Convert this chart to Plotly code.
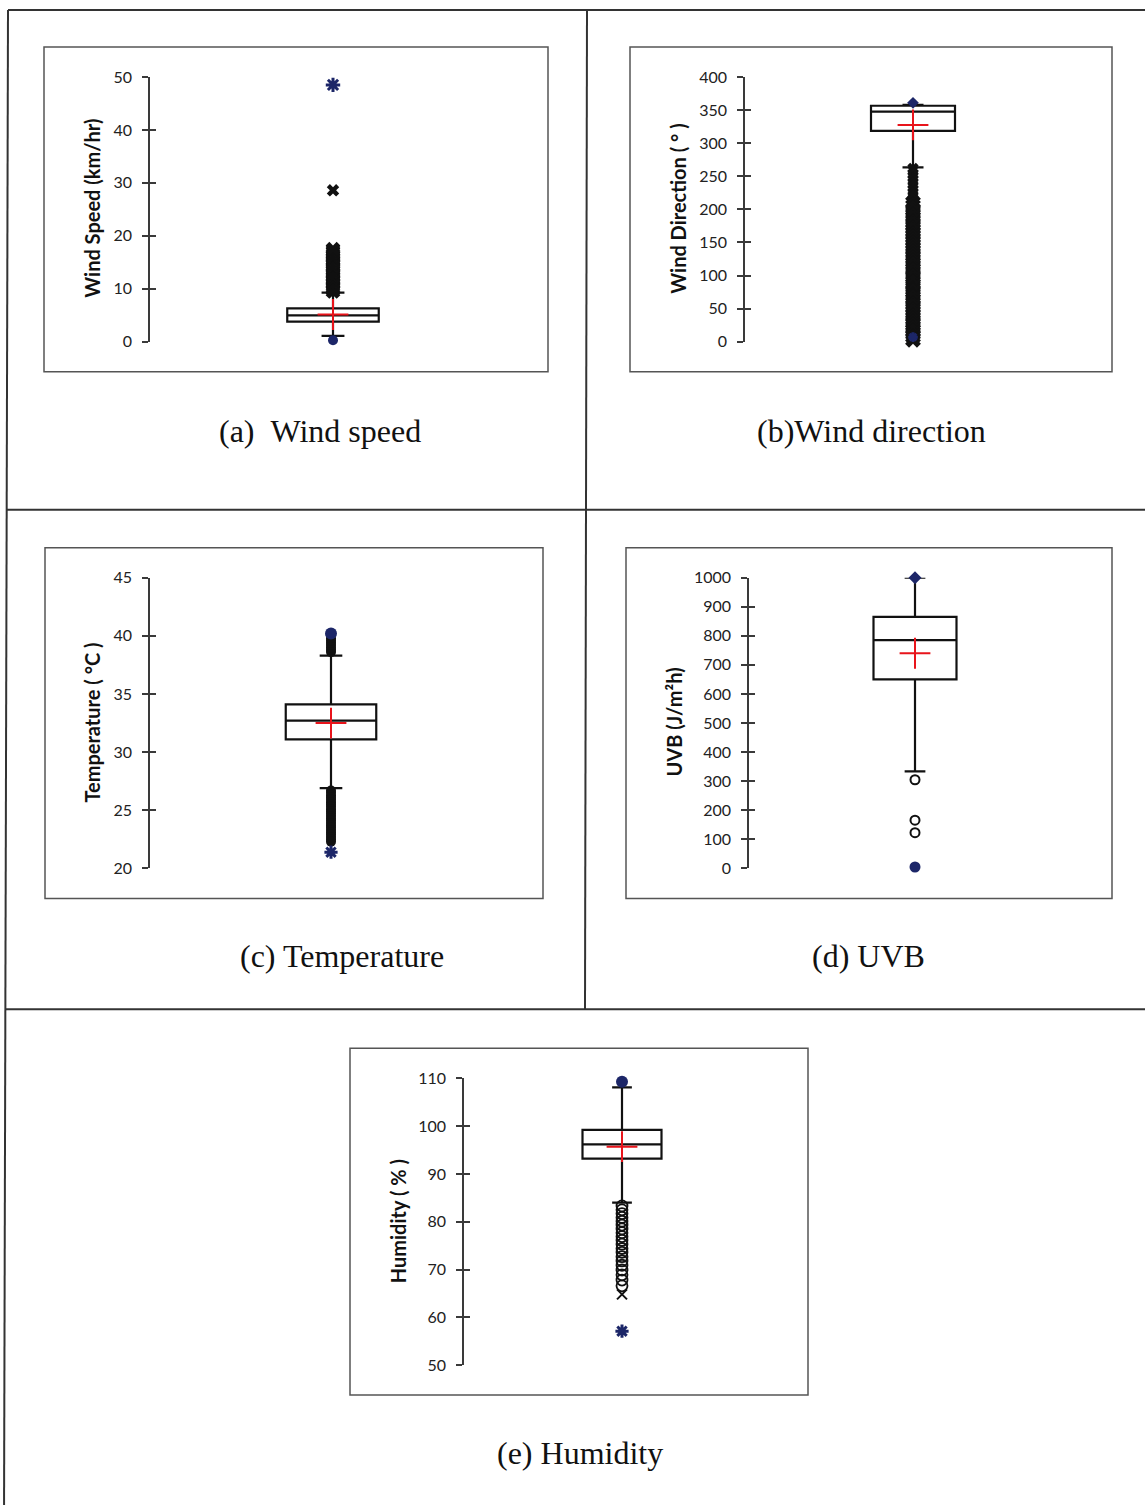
import plotly.graph_objects as go

W, H = 1145, 1505

# ------------------------------------------------------------------ data
# box stats: [lower whisker, Q1, median, Q3, upper whisker]
ws_box = [1.1, 3.8, 5.0, 6.3, 9.3]
ws_mean = 5.15
ws_outliers = [9.5, 9.8, 10.1, 10.3, 10.6, 10.9, 11.1, 11.4, 11.7, 11.9, 12.2, 12.5,
               12.8, 13.0, 13.3, 13.6, 13.9, 14.1, 14.4, 14.7, 15.0, 15.2, 15.5, 15.8,
               16.1, 16.3, 16.6, 16.9, 17.2, 17.5]
ws_far = [28.6]
ws_min, ws_max = 0.3, 48.5

wd_box = [263.5, 318.6, 347.5, 356.5, 358.0]
wd_mean = 327.6
wd_outliers_low = [3, 8, 12, 17, 21, 26, 30, 35, 40, 44, 49, 53, 58, 63, 67, 72, 76, 81,
                   86, 90, 95, 99, 104, 109, 113, 118, 122, 127, 131, 136, 141, 145, 150,
                   154, 159, 164, 168, 173, 177, 182, 187, 191, 196, 200, 205, 210]
wd_outliers_high = [214, 219, 224, 229, 234, 239, 244, 249, 254, 259, 262]
wd_min, wd_max = 7.0, 361.0

tp_box = [26.9, 31.1, 32.7, 34.1, 38.3]
tp_mean = 32.5
tp_outliers_high = [38.6, 38.8, 39.0, 39.2, 39.4, 39.6, 39.8]
tp_outliers_low = [26.7, 26.5, 26.3, 26.1, 25.9, 25.7, 25.5, 25.3, 25.1, 24.9, 24.7, 24.5,
                   24.3, 24.1, 23.9, 23.7, 23.5, 23.3, 23.1, 22.9, 22.7, 22.5, 22.3]
tp_min, tp_max = 21.4, 40.2

uv_box = [334, 650, 785, 865, 1000]
uv_mean = 740
uv_outliers = [305, 166, 123]
uv_min, uv_max = 5, 1000

hu_box = [84.0, 93.2, 96.2, 99.2, 108.1]
hu_mean = 95.7
hu_outliers = [83.3, 82.5, 81.7, 80.9, 80.1, 79.3, 78.5, 77.7, 76.9, 76.1, 75.3, 74.4,
               73.6, 72.7, 71.8, 70.9, 69.9, 68.9, 67.8, 66.6]
hu_far = [64.8]
hu_min, hu_max = 57.1, 109.3

y_ranges = [[0, 50], [0, 400], [20, 45], [0, 1000], [50, 110]]
y_dticks = [10, 50, 5, 100, 10]
y_titles = ["Wind Speed (km/hr)", "Wind Direction ( \u00b0 )", "Temperature ( \u00b0C )",
            "UVB (J/m\u00b2h)", "Humidity ( % )"]
captions = ["(a)\u00a0\u00a0Wind speed", "(b)Wind direction", "(c) Temperature",
            "(d) UVB", "(e) Humidity"]

# ------------------------------------------------------------------ styling / layout
NAVY = "#1c2668"
BLACK = "#111111"
RED = "#e8141b"

panels = [
    dict(box=ws_box, mean=ws_mean, vmin=ws_min, vmax=ws_max,
         groups=[(ws_outliers, "x", 13, BLACK, 0), (ws_far, "x", 11, BLACK, 0)],
         min_sym=("circle", 10), max_sym=("asterisk-open", 12),
         x0=150, x1=516, ytop=76, ybot=341, frame=(44, 46, 548, 371),
         tx=92, ty=208, cx=320, cy=430),
    dict(box=wd_box, mean=wd_mean, vmin=wd_min, vmax=wd_max,
         groups=[(wd_outliers_low, "x", 14, BLACK, 0), (wd_outliers_high, "x", 10, BLACK, 0)],
         min_sym=("asterisk-open", 8), max_sym=("diamond", 9),
         x0=745, x1=1081, ytop=76, ybot=341, frame=(630, 46, 1112, 371),
         tx=678, ty=208, cx=871, cy=430),
    dict(box=tp_box, mean=tp_mean, vmin=tp_min, vmax=tp_max,
         groups=[(tp_outliers_high, "circle", 10, BLACK, 0), (tp_outliers_low, "circle", 10, BLACK, 0)],
         min_sym=("asterisk-open", 11), max_sym=("circle", 12),
         x0=150, x1=512, ytop=577, ybot=868, frame=(45, 547, 543, 898),
         tx=92, ty=722, cx=342, cy=956),
    dict(box=uv_box, mean=uv_mean, vmin=uv_min, vmax=uv_max,
         groups=[(uv_outliers, "circle-open", 9, BLACK, 2)],
         min_sym=("circle", 11), max_sym=("diamond", 10),
         x0=749, x1=1081, ytop=577, ybot=868, frame=(626, 547, 1112, 898),
         tx=674, ty=722, cx=868, cy=956),
    dict(box=hu_box, mean=hu_mean, vmin=hu_min, vmax=hu_max,
         groups=[(hu_outliers, "circle-open", 11, BLACK, 1.8), (hu_far, "x-thin", 10, BLACK, 2)],
         min_sym=("asterisk-open", 11), max_sym=("circle", 12),
         x0=464, x1=780, ytop=1078, ybot=1365, frame=(350, 1048, 808, 1395),
         tx=398, ty=1221, cx=580, cy=1453),
]

# the photographed page comes out slightly squeezed vertically; compensate
Y_OFF, Y_SCALE = 9.0, 0.988


def px(x):
    return x / W


def py(y):
    return 1 - ((y - Y_OFF) / Y_SCALE) / H


fig = go.Figure()
layout = dict(
    width=W, height=H, margin=dict(l=0, r=0, t=0, b=0),
    paper_bgcolor="white", plot_bgcolor="rgba(0,0,0,0)",
    showlegend=False, shapes=[], annotations=[],
)

TICK_COL = "#3a3a3a"

for i, p in enumerate(panels):
    n = i + 1
    xa = "x" if n == 1 else f"x{n}"
    ya = "y" if n == 1 else f"y{n}"
    m = n + 5
    ya2 = f"y{m}"
    lf, q1, med, q3, uf = p["box"]

    fig.add_trace(go.Box(
        x=[0], q1=[q1], median=[med], q3=[q3], lowerfence=[lf], upperfence=[uf],
        width=0.5, whiskerwidth=0.25, boxpoints=False,
        line=dict(color=BLACK, width=2.2), fillcolor="white",
        xaxis=xa, yaxis=ya, hoverinfo="skip",
    ))
    for vals, sym, size, col, lw in p["groups"]:
        fig.add_trace(go.Scatter(
            x=[0] * len(vals), y=vals, mode="markers", cliponaxis=False,
            marker=dict(symbol=sym, size=size, color=col,
                        line=dict(color=col, width=lw)),
            xaxis=xa, yaxis=ya, hoverinfo="skip",
        ))
    # min / max
    for val, (sym, size) in ((p["vmin"], p["min_sym"]), (p["vmax"], p["max_sym"])):
        fig.add_trace(go.Scatter(
            x=[0], y=[val], mode="markers", cliponaxis=False,
            marker=dict(symbol=sym, size=size, color=NAVY,
                        line=dict(color=NAVY, width=3 if "asterisk" in sym else 0)),
            xaxis=xa, yaxis=ya, hoverinfo="skip",
        ))
    # mean (drawn on the overlay axis, which has the identical range)
    fig.add_trace(go.Scatter(
        x=[0], y=[p["mean"]], mode="markers", cliponaxis=False,
        marker=dict(symbol="cross-thin", size=22, color=RED, line=dict(color=RED, width=2)),
        xaxis=xa, yaxis=ya2, hoverinfo="skip",
    ))

    xdom = [px(p["x0"]), px(p["x1"])]
    ydom = [py(p["ybot"]), py(p["ytop"])]
    layout[f"xaxis{'' if n == 1 else n}"] = dict(
        domain=xdom, range=[-1, 1], visible=False, anchor=ya, fixedrange=True)
    layout[f"yaxis{'' if n == 1 else n}"] = dict(
        domain=ydom, range=y_ranges[i], dtick=y_dticks[i], tick0=0, anchor=xa,
        showgrid=False, zeroline=False, showline=True, linecolor=TICK_COL, linewidth=1.5,
        ticks="outside", ticklen=6, tickwidth=1.5, tickcolor=TICK_COL,
        ticklabelstandoff=7,
        tickfont=dict(family="Lato", size=16, color="#222222"), fixedrange=True)
    # overlay axis giving the inward half of the crossing ticks
    layout[f"yaxis{m}"] = dict(
        overlaying=ya, anchor=xa, side="left", range=y_ranges[i], dtick=y_dticks[i],
        tick0=0, showgrid=False, zeroline=False, showline=False,
        ticks="inside", ticklen=6, tickwidth=1.5, tickcolor=TICK_COL,
        showticklabels=False, fixedrange=True)

    fx0, fy0, fx1, fy1 = p["frame"]
    layout["shapes"].append(dict(
        type="rect", xref="paper", yref="paper",
        x0=px(fx0), x1=px(fx1), y0=py(fy1), y1=py(fy0),
        line=dict(color="#555555", width=1.5)))

    layout["annotations"].append(dict(
        xref="paper", yref="paper", x=px(p["tx"]), y=py(p["ty"]),
        text=f"<b>{y_titles[i]}</b>", textangle=-90, showarrow=False,
        xanchor="center", yanchor="middle",
        font=dict(family="Lato", size=20, color="#111111")))
    layout["annotations"].append(dict(
        xref="paper", yref="paper", x=px(p["cx"]), y=py(p["cy"]),
        text=captions[i], showarrow=False, xanchor="center", yanchor="middle",
        font=dict(family="Liberation Serif", size=32, color="#111111")))

# outer page grid lines
FRAME = dict(color="#333333", width=2)
for (x0, y0, x1, y1) in [(8, 9, W, 9), (8, 9, 4, H + 20), (587, 9, 585, 1009),
                         (7, 509, W, 509), (5, 1009, W, 1009)]:
    layout["shapes"].append(dict(type="line", xref="paper", yref="paper",
                                 x0=px(x0), y0=py(y0), x1=px(x1), y1=py(y1), line=FRAME))

fig.update_layout(**layout)
fig.write_html(
    "out.html",
    config={"displayModeBar": False},
    post_script=(
        "document.documentElement.style.margin='0';"
        "document.documentElement.style.overflow='hidden';"
        "document.body.style.margin='0';document.body.style.padding='0';"
        "document.body.style.overflow='hidden';"
        "var d=document.getElementById('{plot_id}');"
        "d.style.position='fixed';d.style.top='0px';d.style.left='0px';"
    ),
)
